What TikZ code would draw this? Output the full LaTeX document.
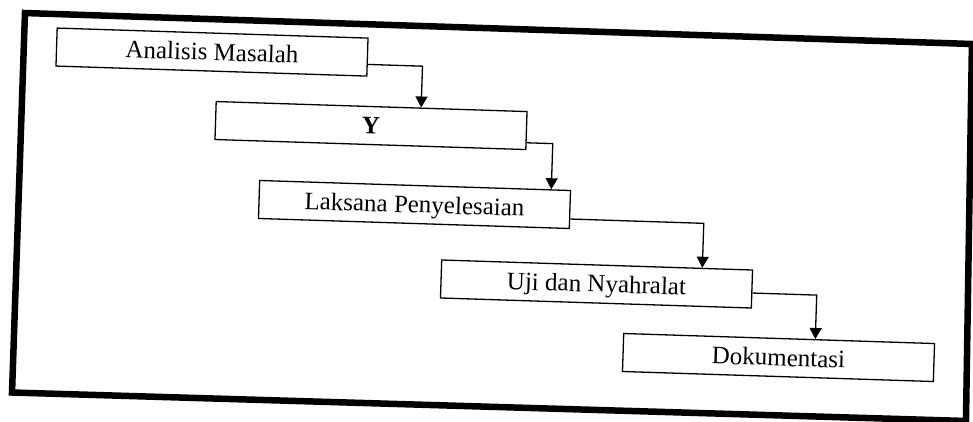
\documentclass[tikz,border=0pt]{standalone}
\usepackage{fontspec}
\setmainfont{Liberation Serif}
\usetikzlibrary{arrows.meta}
\begin{document}
\begin{tikzpicture}[x=1pt,y=-1pt,
  box/.style={draw=black, line width=1.3pt, rectangle, minimum width=311pt,
    minimum height=38pt, inner sep=0pt, text height=16.5pt, text depth=0pt,
    font=\fontsize{25}{30}\selectfont, text=black},
  conn/.style={draw=black, line width=1.3pt, -{Triangle[width=12pt,length=11pt]}},
  frameline/.style={draw=black, line width=6.5pt, line join=miter}]
\useasboundingbox (0,0) rectangle (973,422);
\begin{scope}[transform canvas={rotate around={-1.85:(486,211)}}]
  \draw[frameline] (18.8,28) -- (966.3,28.4) -- (972.5,405.4) -- (18.1,407.7) -- cycle;
  \node[box] (b1) at (207,61) {Analisis Masalah};
  \node[box] (b2) at (368.3,129.3) {\bfseries Y};
  \node[box] (b3) at (414.3,206.8) {Laksana Penyelesaian};
  \node[box] (b4) at (598.8,280.4) {Uji dan Nyahralat};
  \node[box] (b5) at (783.1,348) {Dokumentasi};
  \draw[conn] ([yshift=-7.3pt]b1.east) -| ([xshift=205.7pt]b2.north west);
  \draw[conn] ([yshift=-12.2pt]b2.east) -| ([xshift=292.4pt]b3.north west);
  \draw[conn] ([yshift=-9.5pt]b3.east) -| ([xshift=261.4pt]b4.north west);
  \draw[conn] ([yshift=-4pt]b4.east) -| ([xshift=192.3pt]b5.north west);
\end{scope}
\end{tikzpicture}
\end{document}
